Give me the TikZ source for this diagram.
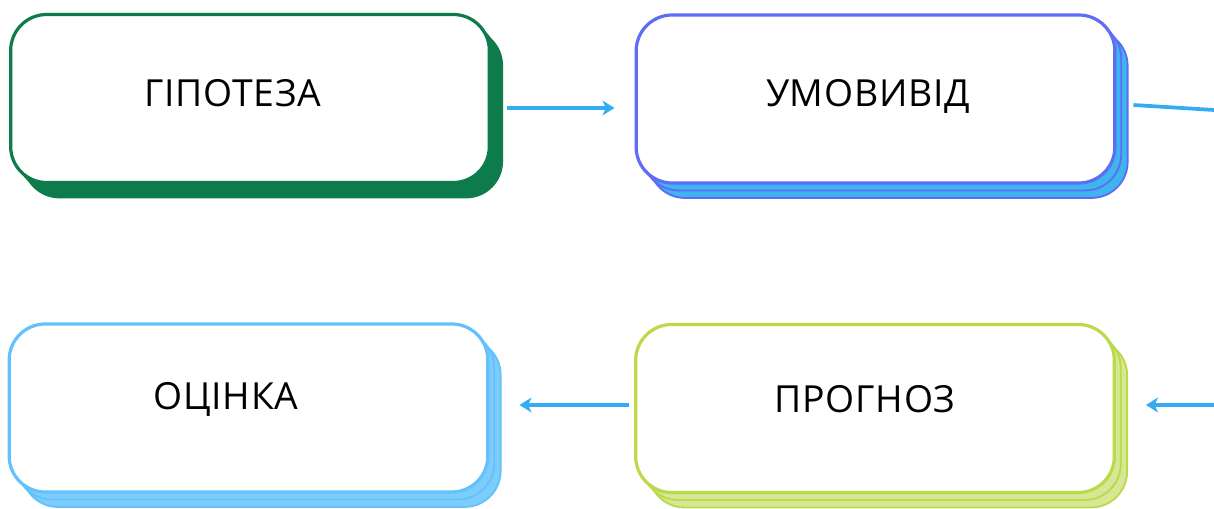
\documentclass[tikz,border=0pt]{standalone}
\usepackage{fontspec}
\setmainfont{Open Sans}[LetterSpace=2]
\usetikzlibrary{shadows,arrows.meta}
\definecolor{cgreen}{HTML}{0E7B4B}
\definecolor{cblue}{HTML}{5E6CF6}
\definecolor{cbluesh}{HTML}{3DB6EE}
\definecolor{clblue}{HTML}{63C2FB}
\definecolor{clbluesh}{HTML}{7DCDFC}
\definecolor{cyel}{HTML}{BCD94A}
\definecolor{cyelsh}{HTML}{D6E795}
\definecolor{carrow}{HTML}{35ACF2}
\tikzset{
  box/.style={draw=#1, fill=white, line width=2.4pt, rounded corners=27pt,
    minimum width=359pt, minimum height=126pt, inner sep=0pt},
  sh/.style 2 args={double copy shadow={shadow xshift=4.8pt, shadow yshift=-5.6pt, fill=#2, draw=#1, line width=1.4pt}},
  lbl/.style={anchor=base, font=\fontsize{28}{30}\selectfont, text=black, inner sep=0pt},
  arr/.style={draw=carrow, line width=2.8pt, -{Stealth[length=9pt,width=11pt,inset=2.5pt]}},
  ln/.style={draw=carrow, line width=2.8pt}
}
\begin{document}
\begin{tikzpicture}[x=0.75pt,y=-0.75pt]
\useasboundingbox (0,0) rectangle (1214,509);
\node[box=cgreen, sh={cgreen}{cgreen}] (g) at (250,98.5) {};
\node[box=cblue, sh={cblue}{cbluesh}] (u) at (875.5,99) {};
\node[box=clblue, sh={clblue}{clbluesh}] (o) at (248.5,408) {};
\node[box=cyel, sh={cyel}{cyelsh}] (p) at (875,408.5) {};
\node[lbl] (gt) at (233,107) {ГІПОТЕЗА};
\node[lbl] (ut) at (868,107) {УМОВИВІД};
\node[lbl] (ot) at (226,410) {ОЦІНКА};
\node[lbl] (pt) at (865,413) {ПРОГНОЗ};
\coordinate (r1) at (1214,110);
\coordinate (r2) at (1214,405);
\draw[arr] ([shift={(16,9.5)}]g.east) -- ([shift={(-20,9)}]u.west);
\draw[ln] ([shift={(17,6)}]u.east) -- (r1);
\draw[arr] (r2) -- ([shift={(30,-3.5)}]p.east);
\draw[arr] ([shift={(-5,-3.5)}]p.west) -- ([shift={(30,-3)}]o.east);
\end{tikzpicture}
\end{document}
